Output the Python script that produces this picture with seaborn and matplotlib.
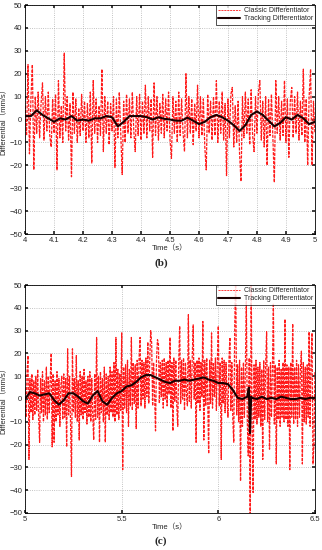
import numpy as np
import pandas as pd
import matplotlib
matplotlib.use("Agg")
import matplotlib.pyplot as plt
import seaborn as sns

# panel (b): 4 s .. 5 s, classic sampled every 5 ms, tracking every 20 ms
classic_b = [
    6, -7, 24, -15, 9, 24, -22, 10, -6, 12,
    -8, 7, 16, -9, 10, -5, 12, -7, -12, 9,
    -6, 11, -22, 17, -8, 6, -10, 29, -5, 10,
    -9, 7, -25, 12, -6, 9, -10, 5, -7, 11,
    -5, 8, -10, 7, -8, 12, -19, 17, -6, 9,
    -10, 6, -7, 22, -14, 10, -6, 8, -11, 7,
    -5, 10, -21, 9, -8, 12, -6, -24, 8, -10,
    11, -6, 9, -8, 12, -5, -14, 10, -7, 11,
    -9, 8, -6, 15, -8, 10, -5, 9, -16.5, 16,
    -7, 10, -9, 7, -6, 11, -8, 9, -5, 12,
    -9, -17, 10, -6, 8, -10, 12, -7, 9, -6,
    -14, 20, -8, 10, -6, 9, -11, 7, -5, 15,
    -8, 10, -7, 9, -12, -22, 11, -6, 8, -9,
    10, -7, 17, -10, 8, -6, 12, -9, 7, -24.5,
    9, -8, 11, 14, -12, 6, -10, 8, -15, -27,
    10, -8, 12, -6, 9, -11, 13, -7, -14, 10,
    -6, 12, 17, -9, 8, -12, 10, -20, 9, -7,
    11, -8, -27.5, 17, -6, 10, -9, 8, -7, 17,
    -10, 9, -16.5, 8, 14, -8, 10, -6, 12, -9,
    8, -7, 22, -10, 9, -20, 10, 22, -20, 8,
    -6,
]
tracking_b = [
    1.5, 1.5, 4, 2, 0.5, -1, 0.5, 0, 1.5, -0.5,
    0, -0.5, 0.5, 0.5, 1.5, 1, -3, -1, 1.5, 1.5,
    1.5, 1, 0, 1, 0.3, 0, -0.5, -0.5, 0.8, -0.5,
    -2, -1, 1, 2, 1, -0.5, -2.5, -5, -2.5, 2,
    3.5, 2, -0.5, -3, -1.5, 1, 0, 2, 0.5, -2,
    -1,
]

# panel (c): 5 s .. 6.5 s
classic_c = [
    5, -8, 12, 19, -26.5, 9, -6, 11, -9, 8,
    -7, 10, -5, 13, -8, -19, 9, -6, 12, -10,
    8, -7, 14, -9, 10, -6, 9, 20, -21, 11,
    -19, 8, -10, 12, -7, 9, -12, 6, 10, -9,
    11, -8, 9, -21, 22, -7, 10, -10, -34, 22,
    -6, 9, -8, 19, -10, 8, -18, 12, -7, 10,
    -9, 13, -6, 8, -11, 10, -8, 12, -10, 9,
    -7, -18, 11, -9, 27, -8, 10, -19, 12, -6,
    9, -10, 14, -19, 11, -7, 10, -9, 14, -6,
    12, -8, 16, -10, 27, -7, 13, -9, 11, -5,
    29, -31, 14, -4, 15, -6, 17, -12, 13, -3,
    27, -5, 16, -2, 15, -13, 17, -4, 18, 27,
    -3, 17, 0, 16, -4, 18, 1, 25, -2, 17,
    30, 24.5, -3, 16, 2, -14, 17, 26, 24.5, -2,
    16, 1, 17, -4, 18, 0, 16, -3, 17, 2,
    27, -4, 16, -14, 18, -1, 17, -3, -12, 16,
    32, -2, 17, 0, 18, -5, 16, 2, -3, 37,
    -1, 17, -4, 18, 32.5, 0, 16, -19, 17, -2,
    18, -5, 16, 1, 34, -18, 17, -3, 18, 0,
    -24, 17, -2, 29, -4, 16, 1, 18, -5, 17,
    32, -3, 16, -26.5, 18, -2, 17, -6, 16, 1,
    -8, 17, 27, -5, 16, -9, -19, 32, 55, -7,
    15, -10, 17, -36, 14, -12, 16, -8, 13, 43,
    -10, -25, 18, -55, 55, -12, -41, 15, -9, 17,
    -11, 14, -8, 16, -12, 13, -26.5, 17, -9, 15,
    29.5, -10, 14, -22, 16, -8, 13, 42, -11, 15,
    -28.5, 14, -9, 17, -12, 13, -8, 16, -10, 35,
    -9, 15, -12, 14, -31, 16, -8, 33, -11, 14,
    -9, 17, -12, 15, -8, 13, 21, -28.5, 16, -10,
    14, -11, 15, -8, 29.5, -12, 16, 29, -28.5, -20,
    12,
]
tracking_c_time = np.r_[np.arange(5.0, 6.151, 0.025), [6.158, 6.164, 6.170],
                        np.arange(6.175, 6.501, 0.025)]
tracking_c = [
    0, 3, 2.5, 1.5, 2, 2.5, -0.5, -2.5, -0.5, 2.5,
    2.5, 1, -1, -2, 1.5, 3.5, -1, -2.5, 0.5, 2.5,
    3.5, 5.5, 6, 7.5, 9.5, 10.5, 10.5, 9.5, 8.5, 7.5,
    7, 8, 8, 8.5, 8, 8.5, 9, 9.5, 8.5, 8,
    7, 7, 6.5, 4, 0.5, 0, 1,
    5, -15, 1,
    0.5, 0, 1, 0, 0.5, 0, 1, 0.5, 0, 0, 0.5, 0, 0.5, 0.5,
]

y_ticks = [-50, -40, -30, -20, -10, 0, 10, 20, 30, 40, 50]
x_ticks_b = [4, 4.1, 4.2, 4.3, 4.4, 4.5, 4.6, 4.7, 4.8, 4.9, 5]
x_ticks_c = [5, 5.5, 6, 6.5]

sns.set_theme(style="whitegrid")
plt.rcParams['font.family'] = ['Liberation Sans', 'Noto Sans CJK SC']

fig = plt.figure(figsize=(3.22, 5.5), dpi=100)
ax_b = fig.add_axes([0.078, 0.5745, 0.90, 0.4164])
ax_c = fig.add_axes([0.078, 0.0673, 0.90, 0.4145])


def draw_panel(ax, t0, classic, track_t, track, xticks, tag, tag_y):
    t = t0 + 0.005 * np.arange(len(classic))
    sns.lineplot(x=t, y=classic, ax=ax, color="#ff1a1a", lw=0.9, estimator=None,
                 label="Classic Differentiator")
    ax.lines[-1].set_dashes((2.5, 1))
    sns.lineplot(x=track_t, y=track, ax=ax, color="#1a0000", lw=1.5, estimator=None,
                 label="Tracking Differentiator")
    ax.set_xlim(xticks[0], xticks[-1])
    ax.set_ylim(-50, 50)
    ax.set_xticks(xticks)
    ax.set_xticklabels([f"{v:g}" for v in xticks])
    ax.set_yticks(y_ticks)
    ax.tick_params(direction="in", length=2, labelsize=5.5, pad=2,
                   bottom=True, left=True, top=True, right=True,
                   labeltop=False, labelright=False)
    ax.grid(True, color="#b0b0b0", linestyle=":", linewidth=0.6)
    for s in ax.spines.values():
        s.set_color("black")
        s.set_linewidth(0.6)
    ax.set_xlabel("Time（s）", fontsize=5.5, labelpad=1)
    ax.set_ylabel("Differential（mm/s）", fontsize=5.5, labelpad=1)
    leg = ax.legend(loc="upper right", fontsize=5, frameon=True, fancybox=False,
                    edgecolor="black", borderaxespad=0, handlelength=3.2,
                    borderpad=0.3, labelspacing=0.2, handletextpad=0.5)
    leg.get_frame().set_linewidth(0.6)
    leg.get_lines()[0].set_linewidth(0.6)
    fig.text(0.5, tag_y, tag, ha="center", va="center", fontsize=8,
             fontweight="bold", family="Liberation Serif")


draw_panel(ax_b, 4.0, classic_b, 4.0 + 0.02 * np.arange(len(tracking_b)), tracking_b,
           x_ticks_b, "(b)", 1 - 263 / 550)
draw_panel(ax_c, 5.0, classic_c, tracking_c_time, tracking_c,
           x_ticks_c, "(c)", 1 - 541 / 550)

fig.savefig("out.png", dpi=100)
